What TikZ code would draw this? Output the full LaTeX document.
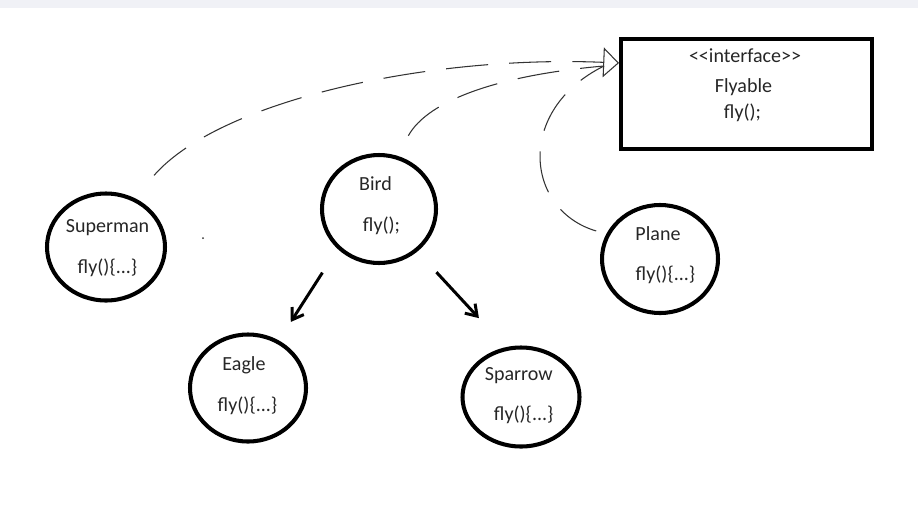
\documentclass[tikz,border=0pt]{standalone}
\usepackage{fontspec}
\setmainfont{Carlito}
\usetikzlibrary{shapes,arrows.meta}
\pgfdeclarelayer{edgelayer}
\pgfdeclarelayer{nodelayer}
\pgfsetlayers{edgelayer,nodelayer,main}
\newlength\px
\setlength\px{0.02cm}
\definecolor{band}{RGB}{240,241,246}
\tikzset{font=\fontsize{11.4}{13}\selectfont}
\tikzstyle{none}=[inner sep=0pt, anchor=base, text=black!85]
\tikzstyle{cls}=[ellipse, draw, line width=2.3pt, inner sep=0pt, minimum width=116\px, minimum height=107\px]
\tikzstyle{iface}=[rectangle, draw, line width=2.3pt, inner sep=0pt, minimum width=251\px, minimum height=110\px]
\tikzstyle{realize}=[line width=0.6pt, draw=black!80, dash pattern=on 24pt off 12pt]
\tikzstyle{inherit}=[line width=1.7pt, -{Straight Barb[length=6pt,width=8pt]}]
\tikzstyle{dot}=[circle, fill=black!80, inner sep=0pt, minimum size=2\px]

\begin{document}
\begin{tikzpicture}[x=1\px, y=-1\px]
	\fill [band] (0,0) rectangle (918,8);
	\useasboundingbox (0,0) rectangle (918,514);
	\begin{pgfonlayer}{nodelayer}
		\node [style=cls, minimum width=118\px] (0) at (106,247) {};
		\node [style=cls, minimum width=114\px, minimum height=108\px] (1) at (379,209) {};
		\node [style=cls, minimum height=108\px] (2) at (660,259) {};
		\node [style=cls] (3) at (248,388) {};
		\node [style=cls, minimum width=117\px, minimum height=99\px] (4) at (521,397) {};
		\node [style=iface] (5) at (746.5,94) {};
		\node [style=none] (6) at (107.5,232.7) {Superman};
		\node [style=none] (7) at (107.5,273) {fly()\{...\}};
		\node [style=none] (8) at (375.5,190.7) {Bird};
		\node [style=none] (9) at (381.5,231) {fly();};
		\node [style=none] (10) at (658,240) {Plane};
		\node [style=none] (11) at (665.5,280) {fly()\{...\}};
		\node [style=none] (12) at (244,370.7) {Eagle};
		\node [style=none] (13) at (247.5,411.7) {fly()\{...\}};
		\node [style=none] (14) at (518.8,380) {Sparrow};
		\node [style=none] (15) at (523.7,420.7) {fly()\{...\}};
		\node [style=none] (16) at (745,62) {<\kern0pt<interface>\kern0pt>};
		\node [style=none] (17) at (743.5,92.7) {Flyable};
		\node [style=none] (18) at (742.5,118) {fly();};
		\node [style=dot] (19) at (203,238) {};
		\coordinate (20) at (619,63);
		\coordinate (21) at (604,66);
	\end{pgfonlayer}
	\begin{pgfonlayer}{edgelayer}
		\draw [style=realize, shorten <=17pt, -{Triangle[open,length=9pt,width=17pt]}] (0.60) .. controls (220,100) and (430,55) .. (20);
		\draw [style=realize, shorten <=13pt] (1.71) .. controls (428,100) and (500,75) .. (21);
		\draw [style=realize, shorten <=6pt] (2.155) .. controls (525,210) and (515,110) .. (21);
		\draw [style=inherit, shorten <=16pt, shorten >=12.5pt] (1.224) to (3.57);
		\draw [style=inherit, shorten <=16pt, shorten >=22.5pt] (1.-48) to (4.107);
	\end{pgfonlayer}
\end{tikzpicture}
\end{document}
